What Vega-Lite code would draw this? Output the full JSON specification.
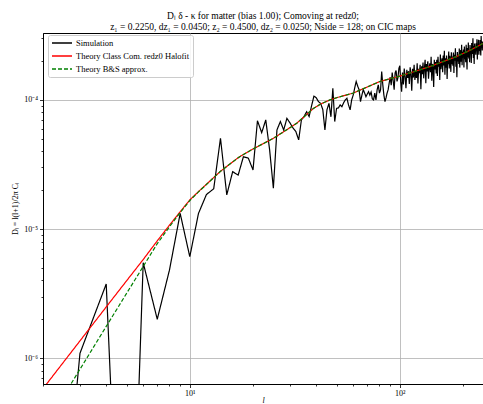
{
  "$schema": "https://vega.github.io/schema/vega-lite/v6.json",
  "autosize": {"type": "none"},
  "padding": {"left": 43, "top": 33, "right": 0, "bottom": 20},
  "width": 440,
  "height": 351,
  "background": "white",
  "config": {
    "view": {"stroke": "#000000", "strokeWidth": 1},
    "font": "Liberation Serif"
  },
  "title": {
    "text": ["Dₗ δ - κ for matter (bias 1.00); Comoving at redz0;", "z₁ = 0.2250, dz₁ = 0.0450; z₂ = 0.4500, dz₂ = 0.0250; Nside = 128; on CIC maps"],
    "font": "Liberation Serif",
    "fontSize": 9.5,
    "fontWeight": "normal",
    "anchor": "middle",
    "lineHeight": 11,
    "offset": 2,
    "color": "#000000"
  },
  "datasets": {
    "sim": [
      {"l": 2, "v": 1e-9}, {"l": 3, "v": 1.09e-6}, {"l": 4, "v": 3.75e-6}, {"l": 5, "v": 1e-9},
      {"l": 6, "v": 5.48e-6}, {"l": 7, "v": 2.0e-6}, {"l": 8, "v": 4.8e-6}, {"l": 9, "v": 1.32e-5},
      {"l": 10, "v": 6.1e-6}, {"l": 11, "v": 1.32e-5}, {"l": 12, "v": 1.85e-5}, {"l": 13, "v": 2.05e-5},
      {"l": 14, "v": 5.05e-5}, {"l": 15, "v": 1.84e-5}, {"l": 16, "v": 2.78e-5}, {"l": 17, "v": 2.62e-5},
      {"l": 18, "v": 3.63e-5}, {"l": 19, "v": 3.54e-5}, {"l": 20, "v": 2.87e-5}, {"l": 21, "v": 6.9e-5},
      {"l": 22, "v": 5.58e-5}, {"l": 23, "v": 7.0e-5}, {"l": 24, "v": 4.1e-5}, {"l": 25, "v": 2.07e-5},
      {"l": 26, "v": 5.85e-5}, {"l": 27, "v": 6.8e-5}, {"l": 28, "v": 5.85e-5}, {"l": 29, "v": 7.2e-5},
      {"l": 30, "v": 6.64e-5}, {"l": 31, "v": 6.07e-5}, {"l": 32, "v": 5.68e-5}, {"l": 33, "v": 4.9e-5},
      {"l": 34, "v": 7.0e-5}, {"l": 35, "v": 7.43e-5}, {"l": 36, "v": 8.1e-5}, {"l": 37, "v": 7.43e-5},
      {"l": 38, "v": 8.98e-5}, {"l": 39, "v": 1.07e-4}, {"l": 40, "v": 1.04e-4}, {"l": 41, "v": 9.7e-5},
      {"l": 42, "v": 9.4e-5}, {"l": 43, "v": 8.4e-5}, {"l": 44, "v": 5.85e-5}, {"l": 45, "v": 8.4e-5},
      {"l": 46, "v": 9.4e-5}, {"l": 47, "v": 7.4e-5}, {"l": 48, "v": 1.23e-4}, {"l": 49, "v": 6.8e-5},
      {"l": 50, "v": 8.6e-5}, {"l": 51, "v": 8.67e-5}, {"l": 52, "v": 9.15e-5}, {"l": 53, "v": 8.87e-5},
      {"l": 54, "v": 9.5e-5}, {"l": 55, "v": 1.0e-4}, {"l": 56, "v": 1.03e-4}, {"l": 57, "v": 9.15e-5},
      {"l": 58, "v": 8.37e-5}, {"l": 59, "v": 1.0e-4}, {"l": 60, "v": 1.09e-4}, {"l": 61, "v": 1.24e-4},
      {"l": 62, "v": 1.39e-4}, {"l": 63, "v": 1.28e-4}, {"l": 64, "v": 1.2e-4}, {"l": 65, "v": 9.7e-5},
      {"l": 66, "v": 1.09e-4}, {"l": 67, "v": 1.2e-4}, {"l": 68, "v": 1.13e-4}, {"l": 69, "v": 1.06e-4},
      {"l": 70, "v": 1.11e-4}, {"l": 71, "v": 1.16e-4}, {"l": 72, "v": 1.09e-4}, {"l": 73, "v": 1.15e-4},
      {"l": 74, "v": 1.02e-4}, {"l": 75, "v": 1.0e-4}, {"l": 76, "v": 1.13e-4}, {"l": 77, "v": 1.0e-4},
      {"l": 78, "v": 1.2e-4}, {"l": 79, "v": 1.31e-4}, {"l": 80, "v": 1.13e-4}, {"l": 81, "v": 1.2e-4},
      {"l": 82, "v": 1.66e-4}, {"l": 83, "v": 1.31e-4}, {"l": 84, "v": 1.09e-4}, {"l": 85, "v": 9.7e-5},
      {"l": 86, "v": 1.04e-4}, {"l": 87, "v": 1.13e-4}, {"l": 88, "v": 1.2e-4}, {"l": 89, "v": 1.35e-4},
      {"l": 90, "v": 1.50e-4}, {"l": 91, "v": 1.30e-4}, {"l": 92, "v": 1.63e-4}, {"l": 93, "v": 1.41e-4},
      {"l": 94, "v": 1.20e-4}, {"l": 95, "v": 1.62e-4}, {"l": 96, "v": 1.69e-4}, {"l": 97, "v": 1.39e-4},
      {"l": 98, "v": 1.49e-4}, {"l": 99, "v": 1.75e-4}, {"l": 100, "v": 1.84e-4}, {"l": 101, "v": 1.38e-4},
      {"l": 102, "v": 1.16e-4}, {"l": 103, "v": 1.63e-4}, {"l": 104, "v": 1.32e-4}, {"l": 105, "v": 1.75e-4},
      {"l": 106, "v": 1.51e-4}, {"l": 107, "v": 1.23e-4}, {"l": 108, "v": 1.71e-4}, {"l": 109, "v": 1.48e-4},
      {"l": 110, "v": 1.67e-4}, {"l": 111, "v": 1.33e-4}, {"l": 112, "v": 1.79e-4}, {"l": 113, "v": 1.58e-4},
      {"l": 114, "v": 1.18e-4}, {"l": 115, "v": 1.74e-4}, {"l": 116, "v": 1.49e-4}, {"l": 117, "v": 1.87e-4},
      {"l": 118, "v": 1.43e-4}, {"l": 119, "v": 1.67e-4}, {"l": 120, "v": 1.48e-4}, {"l": 121, "v": 1.92e-4},
      {"l": 122, "v": 1.34e-4}, {"l": 123, "v": 1.74e-4}, {"l": 124, "v": 1.61e-4}, {"l": 125, "v": 1.87e-4},
      {"l": 126, "v": 1.21e-4}, {"l": 127, "v": 1.82e-4}, {"l": 128, "v": 1.58e-4}, {"l": 129, "v": 1.95e-4},
      {"l": 130, "v": 1.47e-4}, {"l": 131, "v": 1.76e-4}, {"l": 132, "v": 2.05e-4}, {"l": 133, "v": 1.35e-4},
      {"l": 134, "v": 1.90e-4}, {"l": 135, "v": 1.66e-4}, {"l": 136, "v": 1.99e-4}, {"l": 137, "v": 1.46e-4},
      {"l": 138, "v": 1.77e-4}, {"l": 139, "v": 1.92e-4}, {"l": 140, "v": 1.64e-4}, {"l": 141, "v": 2.16e-4},
      {"l": 142, "v": 1.41e-4}, {"l": 143, "v": 1.90e-4}, {"l": 144, "v": 1.76e-4}, {"l": 145, "v": 1.26e-4},
      {"l": 146, "v": 2.05e-4}, {"l": 147, "v": 1.72e-4}, {"l": 148, "v": 1.97e-4}, {"l": 149, "v": 1.60e-4},
      {"l": 150, "v": 2.05e-4}, {"l": 151, "v": 1.53e-4}, {"l": 152, "v": 2.16e-4}, {"l": 153, "v": 1.81e-4},
      {"l": 154, "v": 1.97e-4}, {"l": 155, "v": 1.43e-4}, {"l": 156, "v": 2.25e-4}, {"l": 157, "v": 1.73e-4},
      {"l": 158, "v": 1.94e-4}, {"l": 159, "v": 2.10e-4}, {"l": 160, "v": 1.64e-4}, {"l": 161, "v": 2.21e-4},
      {"l": 162, "v": 1.85e-4}, {"l": 163, "v": 2.40e-4}, {"l": 164, "v": 1.57e-4}, {"l": 165, "v": 2.10e-4},
      {"l": 166, "v": 1.78e-4}, {"l": 167, "v": 2.21e-4}, {"l": 168, "v": 1.45e-4}, {"l": 169, "v": 2.06e-4},
      {"l": 170, "v": 1.89e-4}, {"l": 171, "v": 2.37e-4}, {"l": 172, "v": 1.75e-4}, {"l": 173, "v": 2.20e-4},
      {"l": 174, "v": 2.02e-4}, {"l": 175, "v": 1.65e-4}, {"l": 176, "v": 2.34e-4}, {"l": 177, "v": 1.89e-4},
      {"l": 178, "v": 2.17e-4}, {"l": 179, "v": 1.84e-4}, {"l": 180, "v": 2.33e-4}, {"l": 181, "v": 1.62e-4},
      {"l": 182, "v": 2.24e-4}, {"l": 183, "v": 2.01e-4}, {"l": 184, "v": 2.51e-4}, {"l": 185, "v": 1.81e-4},
      {"l": 186, "v": 2.14e-4}, {"l": 187, "v": 1.50e-4}, {"l": 188, "v": 2.35e-4}, {"l": 189, "v": 1.99e-4},
      {"l": 190, "v": 2.24e-4}, {"l": 191, "v": 1.90e-4}, {"l": 192, "v": 2.50e-4}, {"l": 193, "v": 1.78e-4},
      {"l": 194, "v": 2.14e-4}, {"l": 195, "v": 2.44e-4}, {"l": 196, "v": 1.98e-4}, {"l": 197, "v": 2.68e-4},
      {"l": 198, "v": 1.86e-4}, {"l": 199, "v": 2.36e-4}, {"l": 200, "v": 2.13e-4}, {"l": 201, "v": 2.46e-4},
      {"l": 202, "v": 1.78e-4}, {"l": 203, "v": 2.59e-4}, {"l": 204, "v": 2.07e-4}, {"l": 205, "v": 2.35e-4},
      {"l": 206, "v": 1.96e-4}, {"l": 207, "v": 2.67e-4}, {"l": 208, "v": 2.24e-4}, {"l": 209, "v": 1.72e-4},
      {"l": 210, "v": 2.52e-4}, {"l": 211, "v": 2.15e-4}, {"l": 212, "v": 2.78e-4}, {"l": 213, "v": 2.09e-4},
      {"l": 214, "v": 2.41e-4}, {"l": 215, "v": 1.96e-4}, {"l": 216, "v": 2.66e-4}, {"l": 217, "v": 2.28e-4},
      {"l": 218, "v": 2.51e-4}, {"l": 219, "v": 1.93e-4}, {"l": 220, "v": 2.76e-4}, {"l": 221, "v": 2.27e-4},
      {"l": 222, "v": 2.42e-4}, {"l": 223, "v": 3.00e-4}, {"l": 224, "v": 2.11e-4}, {"l": 225, "v": 2.62e-4},
      {"l": 226, "v": 1.90e-4}, {"l": 227, "v": 2.73e-4}, {"l": 228, "v": 2.39e-4}, {"l": 229, "v": 2.55e-4},
      {"l": 230, "v": 2.24e-4}, {"l": 231, "v": 2.75e-4}, {"l": 232, "v": 2.38e-4}, {"l": 233, "v": 2.95e-4},
      {"l": 234, "v": 2.06e-4}, {"l": 235, "v": 2.68e-4}, {"l": 236, "v": 2.51e-4}, {"l": 237, "v": 2.93e-4},
      {"l": 238, "v": 2.24e-4}, {"l": 239, "v": 2.66e-4}, {"l": 240, "v": 2.39e-4}, {"l": 241, "v": 2.91e-4},
      {"l": 242, "v": 2.55e-4}, {"l": 243, "v": 2.21e-4}, {"l": 244, "v": 3.13e-4}, {"l": 245, "v": 2.53e-4},
      {"l": 246, "v": 2.86e-4}, {"l": 247, "v": 2.42e-4}, {"l": 248, "v": 2.81e-4}, {"l": 249, "v": 2.66e-4}
    ],
    "halofit": [
      {"l": 2, "v": 5.8e-7}, {"l": 3, "v": 1.36e-6}, {"l": 4, "v": 2.49e-6}, {"l": 5, "v": 3.97e-6},
      {"l": 6, "v": 5.8e-6}, {"l": 7, "v": 8.1e-6}, {"l": 8, "v": 1.07e-5}, {"l": 9, "v": 1.36e-5},
      {"l": 10, "v": 1.68e-5}, {"l": 11, "v": 1.95e-5}, {"l": 12, "v": 2.22e-5}, {"l": 14, "v": 2.8e-5},
      {"l": 17, "v": 3.57e-5}, {"l": 20, "v": 4.17e-5}, {"l": 25, "v": 5.04e-5}, {"l": 30, "v": 6.1e-5},
      {"l": 32.3, "v": 6.6e-5}, {"l": 35, "v": 7.4e-5}, {"l": 38.8, "v": 8.6e-5}, {"l": 42, "v": 9.3e-5},
      {"l": 46.5, "v": 1.0e-4}, {"l": 50, "v": 1.04e-4}, {"l": 60, "v": 1.13e-4}, {"l": 70, "v": 1.26e-4},
      {"l": 80, "v": 1.385e-4}, {"l": 100, "v": 1.53e-4}, {"l": 120, "v": 1.68e-4}, {"l": 139, "v": 1.81e-4},
      {"l": 150, "v": 1.9e-4}, {"l": 170, "v": 2.05e-4}, {"l": 186.6, "v": 2.17e-4}, {"l": 200, "v": 2.29e-4},
      {"l": 220, "v": 2.46e-4}, {"l": 249, "v": 2.74e-4}
    ],
    "bs": [
      {"l": 2, "v": 2.8e-7}, {"l": 3, "v": 8.2e-7}, {"l": 4, "v": 1.76e-6}, {"l": 5, "v": 3.17e-6},
      {"l": 6, "v": 5.13e-6}, {"l": 7, "v": 7.7e-6}, {"l": 8, "v": 1.04e-5}, {"l": 9, "v": 1.34e-5},
      {"l": 10, "v": 1.66e-5}, {"l": 11, "v": 1.94e-5}, {"l": 12, "v": 2.21e-5}, {"l": 14, "v": 2.8e-5},
      {"l": 17, "v": 3.57e-5}, {"l": 20, "v": 4.17e-5}, {"l": 25, "v": 5.04e-5}, {"l": 30, "v": 6.1e-5},
      {"l": 32.3, "v": 6.6e-5}, {"l": 35, "v": 7.4e-5}, {"l": 38.8, "v": 8.6e-5}, {"l": 42, "v": 9.3e-5},
      {"l": 46.5, "v": 1.0e-4}, {"l": 50, "v": 1.04e-4}, {"l": 60, "v": 1.13e-4}, {"l": 70, "v": 1.26e-4},
      {"l": 80, "v": 1.385e-4}, {"l": 100, "v": 1.53e-4}, {"l": 120, "v": 1.68e-4}, {"l": 139, "v": 1.81e-4},
      {"l": 150, "v": 1.9e-4}, {"l": 170, "v": 2.05e-4}, {"l": 186.6, "v": 2.17e-4}, {"l": 200, "v": 2.29e-4},
      {"l": 220, "v": 2.46e-4}, {"l": 249, "v": 2.74e-4}
    ]
  },
  "encoding": {
    "x": {
      "field": "l", "type": "quantitative",
      "scale": {"type": "log", "domain": [2, 249], "nice": false},
      "axis": {
        "title": "l",
        "titleFont": "Liberation Serif", "titleFontStyle": "italic", "titleFontWeight": "normal",
        "titleFontSize": 8, "titleColor": "#000000", "titlePadding": -1,
        "values": [2, 3, 4, 5, 6, 7, 8, 9, 10, 20, 30, 40, 50, 60, 70, 80, 90, 100, 200],
        "labelExpr": "datum.value == 10 ? '10¹' : datum.value == 100 ? '10²' : ''",
        "labelFont": "Liberation Serif", "labelFontSize": 8, "labelColor": "#000000", "labelPadding": 2,
        "labelFlush": false, "labelOverlap": false,
        "domainColor": "#000000", "tickColor": "#000000", "tickWidth": 0.8,
        "tickSize": {"condition": {"test": "datum.value == 10 || datum.value == 100", "value": 3.5}, "value": 2},
        "grid": true,
        "gridColor": "#b0b0b0", "gridWidth": 0.8,
        "gridOpacity": {"condition": {"test": "datum.value == 10 || datum.value == 100", "value": 1}, "value": 0}
      }
    },
    "y": {
      "field": "v", "type": "quantitative",
      "scale": {"type": "log", "domain": [6.3e-7, 3.3e-4], "nice": false},
      "axis": {
        "title": "Dₗ = l(l+1)/2π Cₗ",
        "titleFont": "Liberation Serif", "titleFontWeight": "normal", "titleFontSize": 8,
        "titleColor": "#000000", "titlePadding": 4,
        "values": [7e-7, 8e-7, 9e-7, 1e-6, 2e-6, 3e-6, 4e-6, 5e-6, 6e-6, 7e-6, 8e-6, 9e-6, 1e-5, 2e-5, 3e-5, 4e-5, 5e-5, 6e-5, 7e-5, 8e-5, 9e-5, 1e-4, 2e-4, 3e-4],
        "labelExpr": "abs(log(datum.value)/LN10 - round(log(datum.value)/LN10)) < 0.001 ? (round(log(datum.value)/LN10) == -4 ? '10⁻⁴' : round(log(datum.value)/LN10) == -5 ? '10⁻⁵' : '10⁻⁶') : ''",
        "labelFont": "Liberation Serif", "labelFontSize": 8, "labelColor": "#000000", "labelPadding": 2,
        "labelFlush": false, "labelOverlap": false,
        "domainColor": "#000000", "tickColor": "#000000", "tickWidth": 0.8,
        "tickSize": {"condition": {"test": "abs(log(datum.value)/LN10 - round(log(datum.value)/LN10)) < 0.001", "value": 3.5}, "value": 2},
        "grid": true,
        "gridColor": "#b0b0b0", "gridWidth": 0.8,
        "gridOpacity": {"condition": {"test": "abs(log(datum.value)/LN10 - round(log(datum.value)/LN10)) < 0.001", "value": 1}, "value": 0}
      }
    },
    "color": {
      "field": "s", "type": "nominal",
      "scale": {"domain": ["Simulation", "Theory Class Com. redz0 Halofit", "Theory B&S approx."], "range": ["#000000", "#ff0000", "#008000"]},
      "legend": {
        "title": null, "orient": "none", "legendX": 5, "legendY": 2,
        "labelFont": "Liberation Serif", "labelFontSize": 8.5, "labelColor": "#000000",
        "symbolType": "M-2.5,0H2.5", "symbolSize": 64, "symbolStrokeWidth": 1.5,
        "symbolOffset": 6, "labelOffset": 9,
        "fillColor": "rgba(255,255,255,0.85)", "strokeColor": "#cccccc", "cornerRadius": 2,
        "padding": 3, "rowPadding": 3
      }
    },
    "strokeDash": {
      "field": "s", "type": "nominal",
      "scale": {"domain": ["Simulation", "Theory Class Com. redz0 Halofit", "Theory B&S approx."], "range": [[1, 0], [1, 0], [4, 2]]},
      "legend": null
    }
  },
  "layer": [
    {
      "data": {"name": "sim"},
      "transform": [{"calculate": "'Simulation'", "as": "s"}],
      "mark": {"type": "line", "clip": true, "strokeWidth": 1.2}
    },
    {
      "data": {"name": "halofit"},
      "transform": [{"calculate": "'Theory Class Com. redz0 Halofit'", "as": "s"}],
      "mark": {"type": "line", "clip": true, "strokeWidth": 1.2}
    },
    {
      "data": {"name": "bs"},
      "transform": [{"calculate": "'Theory B&S approx.'", "as": "s"}],
      "mark": {"type": "line", "clip": true, "strokeWidth": 1.2}
    }
  ]
}
